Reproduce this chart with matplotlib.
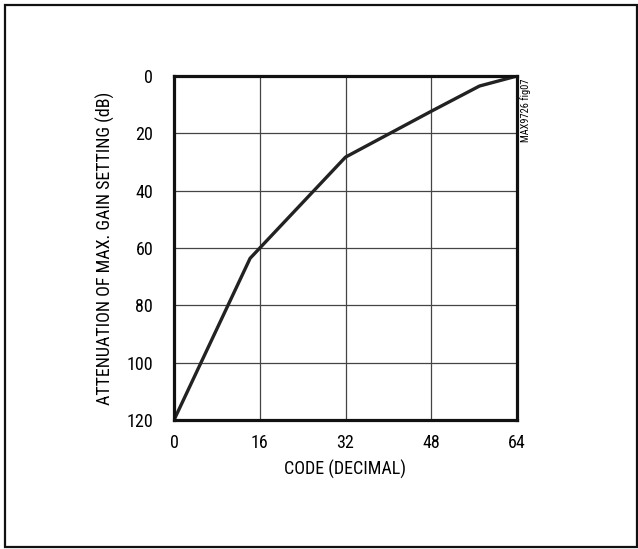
import matplotlib
matplotlib.use("Agg")
import matplotlib.pyplot as plt
from matplotlib.patches import Rectangle

plt.rcParams['font.family'] = ['Roboto Condensed', 'DejaVu Sans']

# datos
code = [0, 14.2, 32, 48, 57, 64]
atten_db = [120, 63.6, 28.3, 12.3, 3.5, 0]

x_ticks = [0, 16, 32, 48, 64]
y_ticks = [0, 20, 40, 60, 80, 100, 120]

fig = plt.figure(figsize=(6.38, 5.49), dpi=100)
ax = fig.add_axes([174 / 638, 1 - 420 / 549, 343 / 638, 344 / 549])

# marco exterior
fig.patches.append(Rectangle((4.5 / 638, 2.5 / 549), 632 / 638, 542 / 549,
                             transform=fig.transFigure, fill=False,
                             edgecolor='#111111', linewidth=1.6))

ax.plot(code, atten_db, color='#222222', linewidth=2.4, solid_joinstyle='round')

ax.set_xlim(0, 64)
ax.set_ylim(120, 0)
ax.set_xticks(x_ticks)
ax.set_yticks(y_ticks)
ax.grid(True, color='#444444', linewidth=0.9)
ax.tick_params(length=0, labelsize=13)
ax.tick_params(axis='x', pad=10)
ax.tick_params(axis='y', pad=15)
for s in ax.spines.values():
    s.set_linewidth(2.3)
    s.set_color('#111111')

ax.set_xlabel('CODE (DECIMAL)', fontsize=13, labelpad=6)
ax.set_ylabel('ATTENUATION OF MAX. GAIN SETTING (dB)', fontsize=13, labelpad=8)

fig.text(526 / 638, 1 - 110 / 549, 'MAX9726 fig07', rotation=90, fontsize=7.5,
         ha='center', va='center')

fig.savefig('out.png', dpi=100)
